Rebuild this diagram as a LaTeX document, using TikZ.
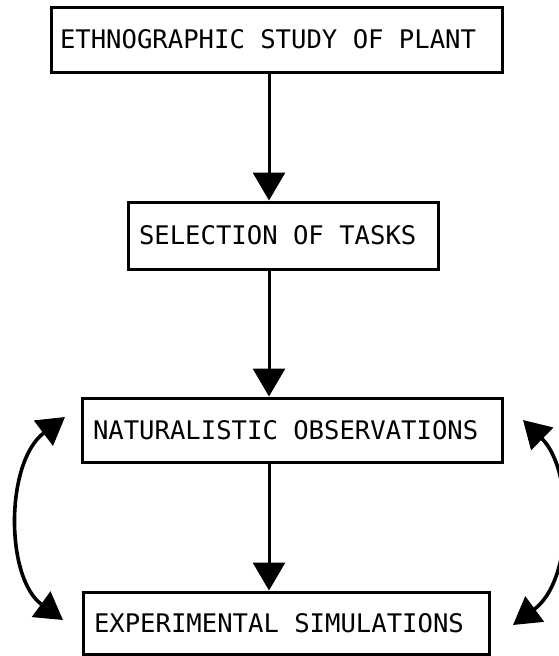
\documentclass[tikz,border=0pt]{standalone}
\usepackage{fontspec}
\newfontfamily\monofnt{DejaVu Sans Mono}
\newcommand\boxfnt{\monofnt\fontsize{25.6}{30}\selectfont\spaceskip=15.4pt plus 0pt minus 0pt\relax}
\usetikzlibrary{arrows.meta}
\begin{document}
\begin{tikzpicture}[x=1pt,y=-1pt,
  box/.style={draw, line width=3pt, rectangle, align=left,
    inner xsep=11pt, inner ysep=0pt},
  arr/.style={line width=3pt, -{Triangle[length=28pt,width=32pt]}},
  dbl/.style={line width=3.6pt,
    {Triangle[length=27pt,width=31pt]}-{Triangle[length=27pt,width=31pt]}}]
\useasboundingbox (0,0) rectangle (559,656);

\node[box, inner xsep=9pt, text width=433pt, minimum width=451pt, minimum height=65pt]
  (b1) at (276.5,39.5) {\boxfnt ETHNOGRAPHIC STUDY OF PLANT};
\node[box, text width=288pt, minimum width=310pt, minimum height=67pt]
  (b2) at (283,235.5) {\boxfnt SELECTION OF TASKS};
\node[box, text width=398pt, minimum width=420pt, minimum height=64pt]
  (b3) at (292,430) {\boxfnt NATURALISTIC OBSERVATIONS};
\node[box, text width=384pt, minimum width=406pt, minimum height=62pt]
  (b4) at (286,623) {\boxfnt EXPERIMENTAL SIMULATIONS};

\coordinate (ax) at (269,0);
\draw[arr] (b1.south -| ax) -- (b2.north -| ax);
\draw[arr] (b2.south -| ax) -- (b3.north -| ax);
\draw[arr] (b3.south -| ax) -- (b4.north -| ax);

\coordinate (lt) at (65,417);
\coordinate (lb) at (63,620);
\coordinate (rt) at (523,420);
\coordinate (rb) at (513,625);
\draw[dbl] (lt) .. controls (5,462) and (5,578) .. (lb);
\draw[dbl] (rt) .. controls (574,470) and (574,580) .. (rb);
\end{tikzpicture}
\end{document}
